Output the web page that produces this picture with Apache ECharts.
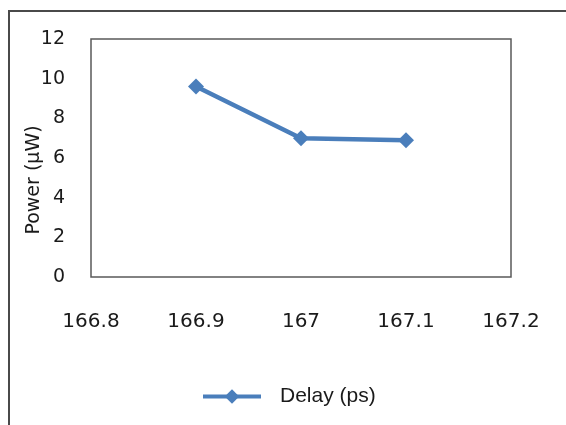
<!DOCTYPE html>
<html>
<head>
<meta charset="utf-8">
<script src="https://cdn.jsdelivr.net/npm/echarts@6/dist/echarts.min.js"></script>
<style>
  html, body { margin: 0; padding: 0; background: #fff; overflow: hidden; }
  #frame { position: absolute; left: 8px; top: 10px; width: 600px; height: 500px; border: 2px solid #4a4a4a; }
  #chart { position: absolute; left: 0; top: 0; width: 566px; height: 425px; }
</style>
</head>
<body>
<div id="frame"></div>
<div id="chart"></div>
<script>
// data
const delay = [166.9, 167.0, 167.1]
const power = [9.6, 7.0, 6.9]
const seriesName = 'Delay (ps)'
const xTicks = [166.8, 166.9, 167.0, 167.1, 167.2]
const yTicks = [0, 2, 4, 6, 8, 10, 12]

const lineColor = '#4a7ebb'
const chart = echarts.init(document.getElementById('chart'))

chart.setOption({
  animation: false,
  backgroundColor: 'transparent',
  grid: {
    left: 91,
    right: 55,
    top: 39,
    bottom: 148,
    show: true,
    borderColor: '#5a5a5a',
    borderWidth: 1.5,
    outerBoundsMode: 'none'
  },
  xAxis: {
    type: 'value',
    min: xTicks[0],
    max: xTicks[xTicks.length - 1],
    interval: 0.1,
    axisLine: { show: false },
    axisTick: { show: false },
    splitLine: { show: false },
    axisLabel: {
      margin: 35,
      fontFamily: 'DejaVu Sans',
      fontSize: 20,
      color: '#1a1a1a',
      formatter: v => String(parseFloat(v.toFixed(1)))
    }
  },
  yAxis: {
    type: 'value',
    min: yTicks[0],
    max: yTicks[yTicks.length - 1],
    interval: 2,
    axisLine: { show: false },
    axisTick: { show: false },
    splitLine: { show: false },
    axisLabel: {
      margin: 26,
      fontFamily: 'DejaVu Sans',
      fontSize: 19,
      color: '#1a1a1a'
    }
  },
  graphic: [{
    type: 'text',
    x: 34,
    y: 180,
    rotation: Math.PI / 2,
    style: {
      text: 'Power (μW)',
      fontFamily: 'DejaVu Sans',
      fontSize: 19,
      fill: '#1a1a1a',
      textAlign: 'center',
      textVerticalAlign: 'middle'
    }
  }],
  legend: {
    left: 196,
    top: 381,
    itemWidth: 58,
    itemHeight: 18,
    itemGap: 10,
    lineStyle: { width: 4, color: lineColor },
    itemStyle: { color: lineColor },
    textStyle: {
      fontFamily: 'Liberation Sans',
      fontSize: 21,
      color: '#1a1a1a',
      padding: [0, 0, 0, 14]
    },
    data: [seriesName]
  },
  series: [{
    name: seriesName,
    type: 'line',
    data: delay.map((d, i) => [d, power[i]]),
    symbol: 'diamond',
    symbolSize: 16,
    itemStyle: { color: lineColor },
    lineStyle: { color: lineColor, width: 4.5 }
  }]
})
</script>
</body>
</html>
